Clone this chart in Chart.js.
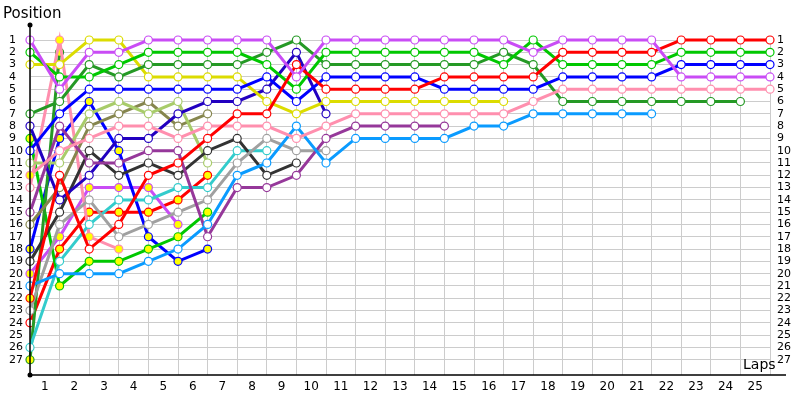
<!DOCTYPE html>
<html>
<head>
<meta charset="utf-8">
<script src="https://cdn.jsdelivr.net/npm/chart.js@4/dist/chart.umd.min.js"></script>
<style>
	body{ margin:0; background:#fff; }
	#wrap{ width:800px; height:400px; position:relative; }
</style>
</head>
<body>
<div id="wrap"><canvas id="lapchart" width="800" height="400"></canvas></div>
<script>
// laps 0 (grid) .. 25, positions
var laps = [0,1,2,3,4,5,6,7,8,9,10,11,12,13,14,15,16,17,18,19,20,21,22,23,24,25];
var lapLabels = ["1","2","3","4","5","6","7","8","9","10","11","12","13","14","15","16","17","18","19","20","21","22","23","24","25"];
var posLabels = [1,2,3,4,5,6,7,8,9,10,11,12,13,14,15,16,17,18,19,20,21,22,23,24,25,26,27];

var magenta   = [1,5,2,2,1,1,1,1,1,4,1,1,1,1,1,1,1,2,1,1,1,1,4,4,4,4];
var green     = [2,4,4,3,2,2,2,2,3,5,2,2,2,2,2,2,3,1,3,3,3,3,2,2,2,2];
var darkGreen = [7,6,3,4,3,3,3,3,2,1,3,3,3,3,3,3,2,3,6,6,6,6,6,6,6];
var yellow    = [3,3,1,1,4,4,4,4,6,7,6,6,6,6,6,6,6];
var blue      = [10,7,5,5,5,5,5,5,4,6,4,4,4,4,5,5,5,5,4,4,4,4,3,3,3,3];
var red       = [22,12,18,16,12,11,9,7,7,3,5,5,5,5,4,4,4,4,2,2,2,2,1,1,1,1];
var pink      = [12,10,9,8,8,9,8,8,8,9,8,7,7,7,7,7,7,6,5,5,5,5,5,5,5,5];
var navy      = [8,14,12,9,9,7,6,6,5,2,7];
var purple    = [15,8,11,11,10,10,17,13,13,12,9,8,8,8,8];
var skyBlue   = [21,20,20,20,19,18,16,12,11,8,11,9,9,9,9,8,8,7,7,7,7,7];
var gray      = [23,16,14,17,16,15,14,11,9,10,10];
var darkGray  = [19,15,10,12,11,12,10,9,12,11];
var cyan      = [26,19,16,14,14,13,13,10,10];
var lime      = [11,11,7,6,7,6,11];
var olive     = [16,13,8,7,6,8,7];
var pink2     = [13,1,17,18];
var darkGreen2= [27,2];
var green2    = [9,21,19,19,18,17,15];
var blue2     = [18,9,6,10,17,19,18];
var magenta2  = [20,17,13,13,13,16];
var red2      = [24,18,15,15,15,14,12];

// laps where the marker is filled yellow
var pitLaps = {
	red:[0], pink:[0], pink2:[1,2,3], darkGreen2:[0,1],
	green2:[0,1,2,3,4,5,6], blue2:[0,1,2,3,4,5,6], magenta2:[0,1,2,3,4,5], red2:[1,2,3,4,5,6]
};

var drivers = [
	["magenta", magenta, "#c94cf5"],
	["red", red, "#ff0000"],
	["green", green, "#00c800"],
	["blue", blue, "#0000ff"],
	["pink", pink, "#ff8fae"],
	["darkGreen", darkGreen, "#259925"],
	["skyBlue", skyBlue, "#0a9bff"],
	["yellow", yellow, "#dcdc00"],
	["purple", purple, "#96389a"],
	["navy", navy, "#2200c0"],
	["gray", gray, "#a0a0a0"],
	["darkGray", darkGray, "#333333"],
	["cyan", cyan, "#33cccc"],
	["lime", lime, "#a8cc6a"],
	["olive", olive, "#86864e"],
	["pink2", pink2, "#ff8fae"],
	["darkGreen2", darkGreen2, "#259925"],
	["green2", green2, "#00c800"],
	["blue2", blue2, "#0000ff"],
	["magenta2", magenta2, "#c94cf5"],
	["red2", red2, "#ff0000"]
];

function buildDataset(d){
	var name = d[0], vals = d[1], col = d[2];
	var pits = pitLaps[name] || [];
	var pts = [], fills = [];
	for(var i = 0; i < vals.length; i++){
		pts.push({ x: laps[i], y: vals[i] });
		fills.push(pits.indexOf(i) >= 0 ? "#ffff00" : "#ffffff");
	}
	return {
		label: name,
		data: pts,
		borderColor: col,
		borderWidth: 3,
		pointRadius: 4,
		pointBorderWidth: 1.2,
		pointBorderColor: col,
		pointBackgroundColor: fills,
		tension: 0,
		clip: false
	};
}

var datasets = [];
for(var i = 0; i < drivers.length; i++) datasets.push(buildDataset(drivers[i]));

var labelsPlugin = {
	id: "lapLabels",
	afterDraw: function(chart){
		var ctx = chart.ctx, xs = chart.scales.x, ys = chart.scales.y;
		var left = chart.chartArea.left, bottom = chart.chartArea.bottom;
		ctx.save();
		// axes
		ctx.strokeStyle = "#000";
		ctx.lineWidth = 1.5;
		ctx.beginPath();
		ctx.moveTo(left, 25); ctx.lineTo(left, bottom);
		ctx.lineTo(786, bottom);
		ctx.stroke();
		ctx.fillStyle = "#000";
		ctx.beginPath(); ctx.arc(left, 25, 2.5, 0, Math.PI*2); ctx.fill();
		ctx.beginPath(); ctx.arc(left, bottom, 2.5, 0, Math.PI*2); ctx.fill();

		ctx.font = "11px 'DejaVu Sans'";
		ctx.textBaseline = "middle";
		$each(posLabels, function(p){
			var y = ys.getPixelForValue(p);
			ctx.textAlign = "left";
			ctx.fillText(String(p), 9, y);
			ctx.fillText(String(p), 777, y);
		});
		ctx.font = "12px 'DejaVu Sans'";
		ctx.textAlign = "center";
		$each(lapLabels, function(l, k){
			ctx.fillText(l, xs.getPixelForValue(k + 0.5), 387);
		});
		ctx.font = "15px 'DejaVu Sans'";
		ctx.textAlign = "left";
		ctx.fillText("Position", 3, 14);
		ctx.font = "14px 'DejaVu Sans'";
		ctx.fillText("Laps", 743, 365);
		ctx.restore();
	}
};

function $each(arr, fn){ for(var i = 0; i < arr.length; i++) fn(arr[i], i); }

new Chart(document.getElementById("lapchart"), {
	type: "line",
	data: { datasets: datasets },
	options: {
		responsive: false,
		animation: false,
		layout: { padding: { left: 30, right: 30, top: 40, bottom: 25 } },
		plugins: { legend: { display: false }, tooltip: { enabled: false } },
		scales: {
			x: {
				type: "linear", min: 0, max: 25,
				border: { display: false },
				grid: { color: "#cccccc", lineWidth: 1, drawTicks: false },
				ticks: { display: false, stepSize: 1 }
			},
			y: {
				type: "linear", reverse: true, min: 1, max: 28.24,
				border: { display: false },
				grid: { color: "#cccccc", lineWidth: 1, drawTicks: false },
				afterBuildTicks: function(scale){
					scale.ticks = posLabels.map(function(p){ return { value: p }; });
				},
				ticks: { display: false }
			}
		}
	},
	plugins: [labelsPlugin]
});
</script>
</body>
</html>
